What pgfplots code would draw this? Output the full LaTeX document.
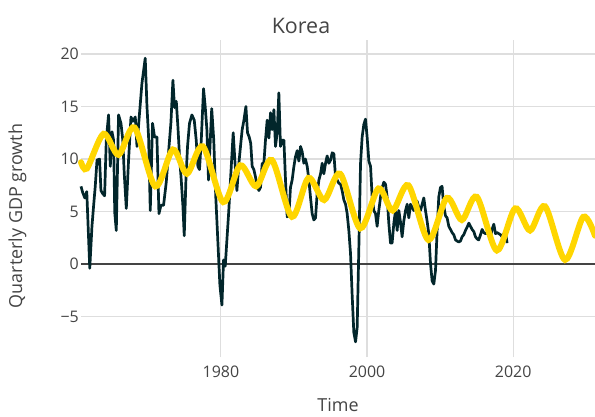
\documentclass[border=0pt]{standalone}
\usepackage{fontspec}
\setmainfont{Open Sans}
\usepackage{pgfplots}
\pgfplotsset{compat=1.18}
\definecolor{txtgray}{RGB}{68,68,68}
\definecolor{gridgray}{RGB}{222,222,222}
\definecolor{zerogray}{RGB}{68,68,68}
\definecolor{gdpdark}{RGB}{2,38,43}
\definecolor{fityellow}{RGB}{255,214,0}

\begin{document}
\begin{tikzpicture}
\useasboundingbox (-81bp,-60bp) rectangle (514bp,357bp);
\begin{axis}[
    scale only axis,
    width=514bp, height=317bp,
    xmin=1960.85, xmax=2031.2,
    ymin=-8.84, ymax=21.33,
    axis line style={draw=none},
    major tick length=0pt,
    grid=major,
    grid style={color=gridgray, line width=1.1bp},
    xtick={1980,2000,2020},
    xticklabels={1980,2000,2020},
    ytick={-5,0,5,10,15,20},
    yticklabels={−5,0,5,10,15,20},
    extra y ticks={0},
    extra y tick labels={},
    extra y tick style={grid style={color=zerogray, line width=1.3bp}},
    tick label style={font=\fontsize{16}{19}\selectfont, text=txtgray},
    xticklabel style={anchor=north, inner sep=0pt, yshift=-9bp},
    yticklabel style={anchor=east, inner sep=0pt, xshift=-2bp},
    clip=false,
]
% quarterly GDP growth
\addplot[gdpdark, line width=2.7bp, line join=round] coordinates {
(1960.85,7.4) (1961.09,6.8) (1961.37,6.3) (1961.64,6.9) (1962.05,-0.4) (1962.35,3.6)
(1962.57,5.5) (1962.8,7.4) (1963.04,9.9) (1963.39,10.0) (1963.58,7.0) (1963.83,6.7)
(1964.08,6.5) (1964.31,11.8) (1964.62,14.2) (1964.86,9.3) (1965.09,12.6) (1965.31,11.8)
(1965.47,4.9) (1965.68,3.2) (1965.99,14.2) (1966.32,13.4) (1966.57,11.8) (1966.77,8.6)
(1967.05,5.3) (1967.36,9.9) (1967.69,14.0) (1967.96,13.6) (1968.28,14.0) (1968.51,11.2)
(1968.82,14.0) (1969.19,17.2) (1969.64,19.6) (1969.88,15.0) (1970.1,12.1) (1970.33,5.1)
(1970.64,13.4) (1970.92,12.1) (1971.24,12.1) (1971.52,4.8) (1971.79,5.6) (1972.15,5.6)
(1972.52,7.8) (1972.83,10.6) (1973.16,13.5) (1973.43,17.5) (1973.65,14.9) (1973.89,15.5)
(1974.12,13.0) (1974.34,10.2) (1974.57,8.0) (1974.8,5.5) (1974.98,2.7) (1975.21,8.0)
(1975.43,11.2) (1975.7,13.4) (1976.03,14.2) (1976.35,13.7) (1976.62,11.8) (1976.85,9.3)
(1977.07,9.0) (1977.31,11.8) (1977.62,16.7) (1977.85,15.0) (1978.08,12.8) (1978.3,8.0)
(1978.74,14.8) (1979.02,11.8) (1979.29,6.5) (1979.56,2.5) (1979.86,-2.0) (1980.14,-3.9)
(1980.36,0.4) (1980.59,-0.2) (1980.82,2.3) (1981.07,5.0) (1981.31,8.0) (1981.68,12.5)
(1981.96,9.3) (1982.19,7.0) (1982.46,9.6) (1982.68,11.2) (1982.91,12.8) (1983.15,13.7)
(1983.42,15.0) (1983.64,12.5) (1983.87,12.1) (1984.08,11.5) (1984.28,9.3) (1984.51,9.0)
(1984.73,8.3) (1984.97,7.4) (1985.2,7.0) (1985.42,7.3) (1985.65,9.6) (1985.88,9.6)
(1986.1,11.8) (1986.33,13.7) (1986.57,12.0) (1986.79,14.4) (1987.02,12.8) (1987.25,14.7)
(1987.47,11.2) (1987.7,12.5) (1987.93,16.3) (1988.15,11.2) (1988.39,11.8) (1988.62,11.8)
(1988.84,8.0) (1989.07,4.5) (1989.3,4.6) (1989.52,7.3) (1989.75,8.0) (1989.99,9.3)
(1990.2,10.2) (1990.44,10.8) (1990.67,9.8) (1990.9,11.2) (1991.12,10.7) (1991.35,9.6)
(1991.57,10.0) (1991.81,9.3) (1992.04,8.0) (1992.27,6.3) (1992.49,4.8) (1992.72,4.2)
(1992.95,4.4) (1993.17,6.7) (1993.41,8.0) (1993.64,8.6) (1993.86,9.6) (1994.09,8.6)
(1994.32,9.6) (1994.54,10.3) (1994.77,9.6) (1995.01,9.9) (1995.23,10.6) (1995.46,10.5)
(1995.69,8.3) (1995.91,8.0) (1996.14,7.7) (1996.38,7.6) (1996.59,7.0) (1996.83,6.1)
(1997.06,5.7) (1997.28,4.8) (1997.51,3.2) (1997.74,1.0) (1997.96,-2.9) (1998.19,-6.5)
(1998.43,-7.4) (1998.65,-6.0) (1998.88,1.6) (1999.11,9.6) (1999.33,12.1) (1999.56,13.3)
(1999.79,13.8) (2000.01,12.1) (2000.25,9.8) (2000.48,9.3) (2000.7,6.4) (2000.93,5.1)
(2001.16,4.8) (2001.38,3.6) (2001.61,5.1) (2001.85,6.4) (2002.07,7.3) (2002.3,7.8)
(2002.53,7.6) (2002.75,6.4) (2002.98,3.9) (2003.21,2.0) (2003.43,2.0) (2003.67,3.9)
(2003.9,5.1) (2004.12,3.2) (2004.35,5.1) (2004.58,4.0) (2004.8,2.6) (2005.03,4.1)
(2005.27,5.1) (2005.49,5.7) (2005.72,4.4) (2005.95,5.7) (2006.17,5.4) (2006.4,5.1)
(2006.63,5.6) (2006.85,6.0) (2007.09,5.4) (2007.32,5.1) (2007.54,5.7) (2007.77,6.3)
(2008.0,5.1) (2008.22,4.1) (2008.45,2.9) (2008.69,0.0) (2008.91,-1.6) (2009.14,-1.9)
(2009.37,-0.6) (2009.59,3.2) (2009.82,6.4) (2010.05,7.3) (2010.27,7.4) (2010.5,5.5)
(2010.74,4.6) (2010.96,4.4) (2011.19,3.6) (2011.42,3.3) (2011.64,3.0) (2011.87,2.8)
(2012.11,2.3) (2012.33,2.2) (2012.56,2.1) (2012.79,2.2) (2013.01,2.6) (2013.24,2.8)
(2013.47,3.2) (2013.69,3.5) (2013.93,3.9) (2014.16,3.6) (2014.38,3.3) (2014.61,3.1)
(2014.84,2.6) (2015.06,2.4) (2015.29,2.3) (2015.53,2.8) (2015.75,3.3) (2015.98,3.0)
(2016.21,2.9) (2016.43,3.0) (2016.66,2.9) (2016.89,2.6) (2017.11,3.3) (2017.35,3.8)
(2017.58,2.9) (2017.8,3.0) (2018.03,2.9) (2018.26,2.8) (2018.48,2.6) (2018.71,2.9)
(2018.95,3.0) (2019.17,2.0)
};
% fitted cycle
\addplot[fityellow, line width=6bp, smooth, line cap=round] coordinates {
(1960.85,9.7) (1961.67,9.1) (1963.94,12.4) (1965.99,10.4) (1968.18,13.0) (1971.01,7.4)
(1973.43,10.9) (1975.35,8.6) (1977.54,11.2) (1980.31,5.9) (1982.64,9.4) (1984.83,7.4)
(1986.98,9.9) (1989.71,4.5) (1991.98,8.2) (1994.13,6.1) (1996.32,8.6) (1999.06,3.4)
(2001.56,7.2) (2003.5,5.1) (2005.66,7.5) (2008.4,2.3) (2010.92,6.3) (2012.97,4.2)
(2015.02,6.4) (2017.76,1.3) (2020.26,5.3) (2022.31,3.2) (2024.36,5.5) (2027.1,0.4)
(2029.6,4.5) (2031.2,2.7)
};
\end{axis}
\node[text=txtgray, font=\fontsize{21.5}{25}\selectfont] at (220bp,331bp) {Korea};
\node[text=txtgray, font=\fontsize{18}{22}\selectfont, rotate=90] at (-63.5bp,141bp) {Quarterly GDP growth};
\node[text=txtgray, font=\fontsize{18}{22}\selectfont] at (257bp,-48bp) {Time};
\end{tikzpicture}
\end{document}
